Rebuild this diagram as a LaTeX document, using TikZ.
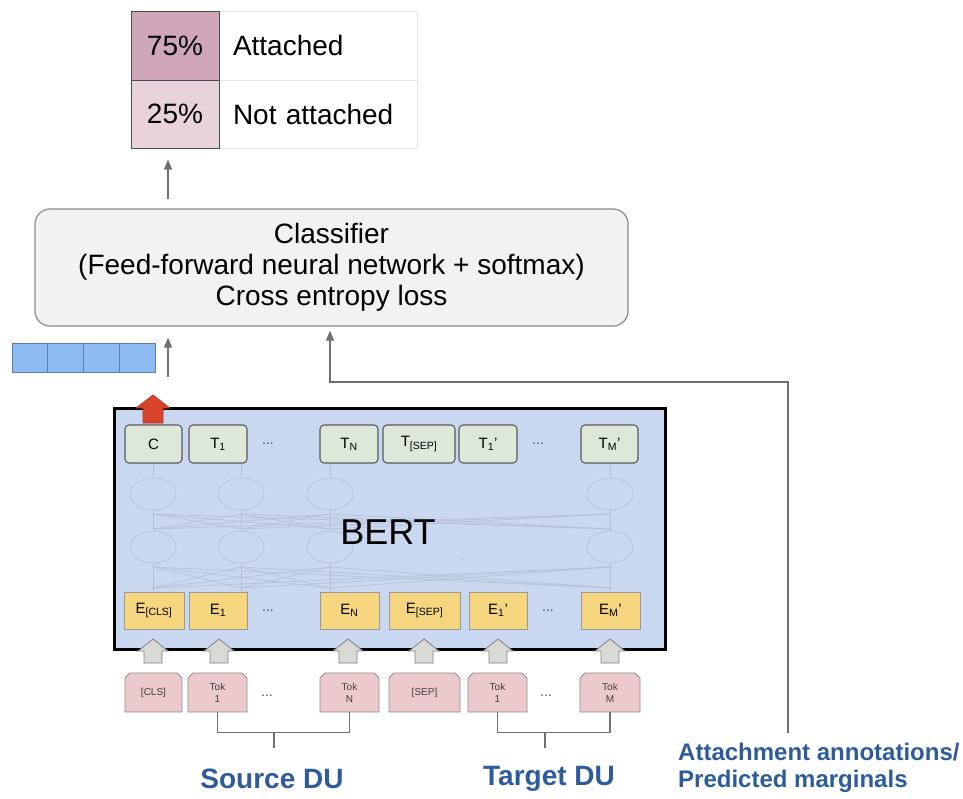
\documentclass[tikz,border=0pt]{standalone}
\usepackage{fontspec}
\setmainfont{Liberation Sans}
\usetikzlibrary{arrows.meta,calc,shapes.misc}
\definecolor{pdark}{HTML}{D0A6BA}
\definecolor{plight}{HTML}{E8D2DC}
\definecolor{clsfill}{HTML}{F2F2F2}
\definecolor{clsline}{HTML}{8A8A8A}
\definecolor{vecfill}{HTML}{8EBBF1}
\definecolor{vecline}{HTML}{5A7FAE}
\definecolor{bertfill}{HTML}{C9D7F1}
\definecolor{tfill}{HTML}{DEE8D9}
\definecolor{efill}{HTML}{F5D57E}
\definecolor{tokfill}{HTML}{ECC9CC}
\definecolor{faint}{HTML}{B6BFD2}
\definecolor{redarr}{HTML}{D9432C}
\definecolor{grayarr}{HTML}{D9D9D5}
\definecolor{txtblue}{HTML}{2E5C9B}
\definecolor{conn}{HTML}{707070}
\newcommand{\blockarr}[7]{%
  \draw[#7] (#1,#2) -- (#1+#5,#3) -- (#1+#6,#3) -- (#1+#6,#4) -- (#1-#6,#4) -- (#1-#6,#3) -- (#1-#5,#3) -- cycle;}
\begin{document}
\begin{tikzpicture}[x=1pt,y=-1pt,
  pcell/.style={draw=black!70, line width=1pt, inner sep=0pt, minimum width=88pt, font=\fontsize{28}{30}\selectfont},
  lcell/.style={draw=black!10, line width=0.6pt, inner xsep=14pt, inner ysep=0pt, text width=170pt, align=left, minimum width=198pt, font=\fontsize{28}{30}\selectfont},
  clsbox/.style={draw=clsline, fill=clsfill, line width=1.2pt, rounded corners=15pt, minimum width=593pt, minimum height=117pt, align=center, font=\fontsize{28}{31}\selectfont},
  vcell/.style={draw=vecline, fill=vecfill, line width=0.8pt, minimum width=35.75pt, minimum height=29pt, inner sep=0pt},
  bertbox/.style={draw=black, fill=bertfill, line width=3pt, minimum width=551pt, minimum height=241pt, inner sep=0pt},
  tnode/.style={draw=black!65, fill=tfill, line width=1.1pt, rounded corners=4pt, minimum height=38pt, inner sep=0pt, font=\fontsize{15}{15}\selectfont},
  enode/.style={draw=black!40, fill=efill, line width=0.8pt, minimum height=37pt, inner sep=0pt, font=\fontsize{15}{15}\selectfont},
  toknode/.style={chamfered rectangle, chamfered rectangle corners={north west,north east}, chamfered rectangle xsep=2.5pt, chamfered rectangle ysep=2.5pt, draw=black!45, fill=tokfill, line width=0.8pt, minimum height=39pt, inner sep=0pt, align=center, font=\fontsize{10}{12}\selectfont, text=black!75},
  dots/.style={font=\fontsize{14}{14}\selectfont, text=black!70, inner sep=0pt},
  fdots/.style={font=\fontsize{12}{12}\selectfont, text=faint, inner sep=0pt},
  fl/.style={draw=faint, line width=0.6pt},
  arr/.style={draw=conn, line width=1.2pt, -{Triangle[length=10pt,width=8pt]}},
  brk/.style={draw=conn, line width=1.2pt},
  du/.style={font=\bfseries\fontsize{28}{30}\selectfont, text=txtblue, inner sep=0pt},
]
\useasboundingbox (0,0) rectangle (963,798);

% ---------- output table ----------
\node[lcell, minimum height=69pt] (lab1) at (318,45.5) {Attached};
\node[lcell, minimum height=68pt] (lab2) at (318,114) {Not attached};
\node[pcell, fill=pdark, minimum height=69pt] (p75) at (175,45.5) {75\%};
\node[pcell, fill=plight, minimum height=68pt] (p25) at (175,114) {25\%};

% ---------- classifier ----------
\node[clsbox] (cls) at (331.5,267.5) {Classifier\\(Feed-forward neural network + softmax)\\Cross entropy loss};

% ---------- vector ----------
\node[vcell] (v0) at (29.9,357.5) {};
\node[vcell] (v1) at (65.6,357.5) {};
\node[vcell] (v2) at (101.4,357.5) {};
\node[vcell] (v3) at (137.1,357.5) {};

% connector coordinates
\coordinate (colA) at (168,0);
\coordinate (vbot) at (168,377);
\coordinate (colB) at (330,382);
\coordinate (annbot) at (788,733);

\draw[arr, shorten <=9pt, shorten >=11pt] (cls.north -| colA) -- (p25.south -| colA);
\draw[arr, shorten >=11pt] (vbot) -- (cls.south -| vbot);
\draw[arr, shorten >=4pt] (annbot) |- (colB) -- (cls.south -| colB);

% ---------- BERT ----------
\node[bertbox] (bert) at (389.5,528.5) {};

% faint internal network
\foreach \x in {153,241,330,610}{
  \draw[fl] (\x,494) ellipse [x radius=23pt, y radius=16pt];
  \draw[fl] (\x,547) ellipse [x radius=23pt, y radius=16pt];
  \draw[fl] (\x,592) -- (\x,563);
  \draw[fl] (\x,531) -- (\x,510);
  \draw[fl] (\x,478) -- (\x,463);
}
\foreach \a in {153,241,330,610}{
  \foreach \b in {153,241,330,610}{
    \ifnum\a=\b\relax\else
      \draw[fl] (\a,588) -- (\b,567);
      \draw[fl] (\a,529) -- (\b,514);
    \fi
  }
}
\node[fdots] (fd1) at (464,506) {...};
\node[fdots] (fd2) at (464,560) {...};
\node[font=\fontsize{36}{36}\selectfont, inner sep=0pt] (bertlab) at (388,532) {BERT};

% T row
\node[tnode, minimum width=57pt] (tc) at (153.5,444) {C};
\node[tnode, minimum width=58pt] (t1) at (218,444) {T\textsubscript{1}};
\node[dots] (td1) at (268,444) {...};
\node[tnode, minimum width=58pt] (tn) at (349,444) {T\textsubscript{N}};
\node[tnode, minimum width=72pt] (tsep) at (419,444) {T\textsubscript{[SEP]}};
\node[tnode, minimum width=58pt] (t1p) at (488,444) {T\textsubscript{1}'};
\node[dots] (td2) at (538,444) {...};
\node[tnode, minimum width=57pt] (tm) at (609.5,444) {T\textsubscript{M}'};

% E row
\node[enode, minimum width=60pt] (ecls) at (154,610.5) {E\textsubscript{[CLS]}};
\node[enode, minimum width=58pt] (e1) at (218,610.5) {E\textsubscript{1}};
\node[dots] (ed1) at (268,610.5) {...};
\node[enode, minimum width=59pt] (en) at (349.5,610.5) {E\textsubscript{N}};
\node[enode, minimum width=71pt] (esep) at (424.5,610.5) {E\textsubscript{[SEP]}};
\node[enode, minimum width=58pt] (e1p) at (498,610.5) {E\textsubscript{1}'};
\node[dots] (ed2) at (548,610.5) {...};
\node[enode, minimum width=59pt] (em) at (610.5,610.5) {E\textsubscript{M}'};

% red output arrow
\blockarr{153}{395}{408}{423}{17}{10}{fill=redarr, draw=redarr!80!black, line width=0.6pt}

% gray input arrows
\foreach \x in {153,219,348,424,498,610}{
  \blockarr{\x}{639}{651}{663}{15}{9}{fill=grayarr, draw=black!50, line width=0.8pt}
}

% Tok row
\node[toknode, minimum width=57pt] (tokcls) at (153.5,692.5) {[CLS]};
\node[toknode, minimum width=59pt] (tok1) at (217.5,692.5) {Tok\\1};
\node[dots] (kd1) at (267,696) {...};
\node[toknode, minimum width=59pt] (tokn) at (349.5,692.5) {Tok\\N};
\node[toknode, minimum width=71pt] (toksep) at (424.5,692.5) {[SEP]};
\node[toknode, minimum width=59pt] (tok1p) at (497.5,692.5) {Tok\\1};
\node[dots] (kd2) at (546,696) {...};
\node[toknode, minimum width=60pt] (tokm) at (610,692.5) {Tok\\M};

% brackets
\draw[brk] (tok1.south) -- ++(0,20) -| (tokn.south);
\draw[brk] (tok1p.south) -- ++(0,20) -| (tokm.south);
\coordinate (srcbar) at (274,732);
\coordinate (tgtbar) at (545,732);
\draw[brk] (srcbar) -- ++(0,16);
\draw[brk] (tgtbar) -- ++(0,16);

% labels
\node[du] (src) at (272,779) {Source DU};
\node[du] (tgt) at (549,779) {Target DU};
\node[font=\bfseries\fontsize{24}{27}\selectfont, text=txtblue, align=left, anchor=west, inner sep=0pt] (ann) at (678,768) {Attachment annotations/\\Predicted marginals};
\end{tikzpicture}
\end{document}
